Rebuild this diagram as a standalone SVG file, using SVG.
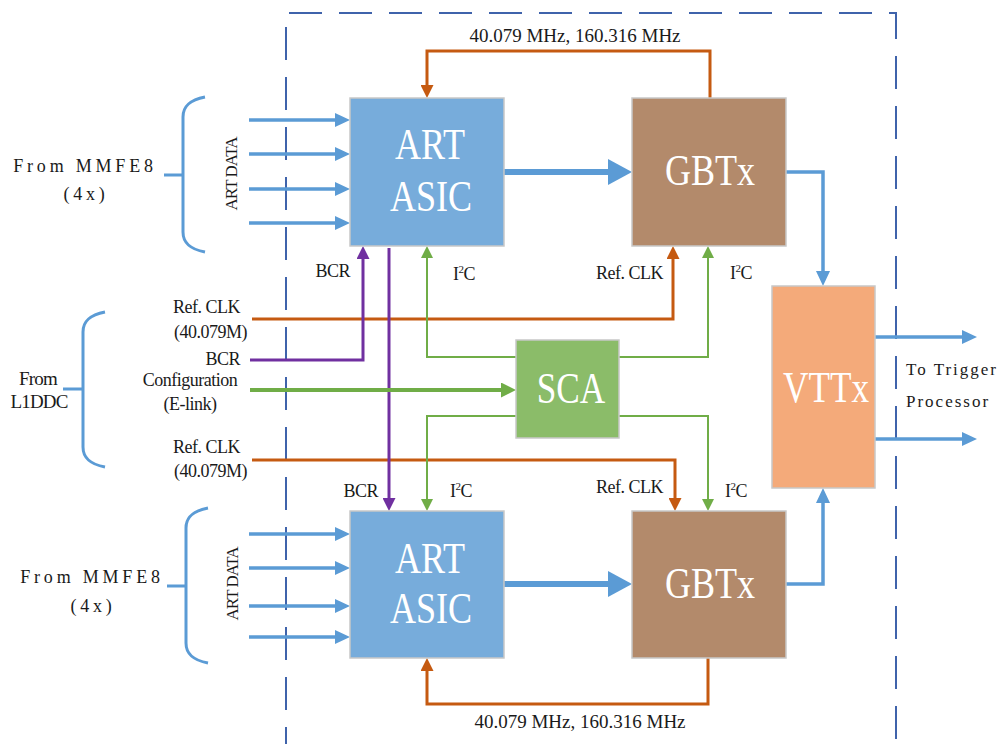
<svg xmlns="http://www.w3.org/2000/svg" width="1001" height="744" viewBox="0 0 1001 744">
<defs>
<style>
.t{font-family:"Liberation Serif","Times New Roman",serif;fill:#1a1a1a}
.lbl{font-size:18px;letter-spacing:-0.5px}
.big{font-family:"Liberation Serif","Times New Roman",serif;font-size:44px;fill:#ffffff;text-anchor:middle}
.sp{font-size:18px;letter-spacing:3.8px;text-anchor:middle}
.box{stroke:#c8c8c8;stroke-width:1.5}
.blue{fill:none;stroke:#5b9bd5;stroke-width:3.5}
.orange{fill:none;stroke:#c55a11;stroke-width:3}
.purple{fill:none;stroke:#7030a0;stroke-width:3}
.green{fill:none;stroke:#70ad47;stroke-width:2}
.brace{fill:none;stroke:#5b9bd5;stroke-width:3}
</style>
<marker id="mBlue" markerUnits="userSpaceOnUse" markerWidth="15" markerHeight="14" refX="4" refY="7" orient="auto"><path d="M0,0 L15,7 L0,14 Z" fill="#5b9bd5"/></marker>
<marker id="mBlueBig" markerUnits="userSpaceOnUse" markerWidth="24" markerHeight="26" refX="4" refY="13" orient="auto"><path d="M0,0 L24,13 L0,26 Z" fill="#5b9bd5"/></marker>
<marker id="mOrange" markerUnits="userSpaceOnUse" markerWidth="13" markerHeight="13" refX="4" refY="6.5" orient="auto"><path d="M0,0 L13,6.5 L0,13 Z" fill="#c55a11"/></marker>
<marker id="mPurple" markerUnits="userSpaceOnUse" markerWidth="13" markerHeight="13" refX="4" refY="6.5" orient="auto"><path d="M0,0 L13,6.5 L0,13 Z" fill="#7030a0"/></marker>
<marker id="mGreen" markerUnits="userSpaceOnUse" markerWidth="12" markerHeight="12" refX="4" refY="6" orient="auto"><path d="M0,0 L12,6 L0,12 Z" fill="#70ad47"/></marker>
<marker id="mGreenBig" markerUnits="userSpaceOnUse" markerWidth="15" markerHeight="15" refX="4" refY="7.5" orient="auto"><path d="M0,0 L15,7.5 L0,15 Z" fill="#70ad47"/></marker>
</defs>
<rect width="1001" height="744" fill="#ffffff"/>

<g id="boundary">
<path d="M286,760 V13 H896 V760" fill="none" stroke="#3f63ab" stroke-width="2" stroke-dasharray="33 17"/>
</g>

<g id="connectors">
<path class="blue" d="M249,120 H339" marker-end="url(#mBlue)"/>
<path class="blue" d="M249,154 H339" marker-end="url(#mBlue)"/>
<path class="blue" d="M249,189 H339" marker-end="url(#mBlue)"/>
<path class="blue" d="M249,223 H339" marker-end="url(#mBlue)"/>
<path class="blue" d="M249,534 H339" marker-end="url(#mBlue)"/>
<path class="blue" d="M249,568 H339" marker-end="url(#mBlue)"/>
<path class="blue" d="M249,606 H339" marker-end="url(#mBlue)"/>
<path class="blue" d="M249,637 H339" marker-end="url(#mBlue)"/>
<path d="M502,172 H612" fill="none" stroke="#5b9bd5" stroke-width="6" stroke-linecap="round" marker-end="url(#mBlueBig)"/>
<path d="M502,584 H612" fill="none" stroke="#5b9bd5" stroke-width="6" stroke-linecap="round" marker-end="url(#mBlueBig)"/>
<path class="blue" d="M786,172 H823 V275" marker-end="url(#mBlue)"/>
<path class="blue" d="M786,584 H823 V499" marker-end="url(#mBlue)"/>
<path class="blue" d="M875,337 H966" marker-end="url(#mBlue)"/>
<path class="blue" d="M875,439 H966" marker-end="url(#mBlue)"/>
<path class="orange" d="M710,98 V51 H427 V89" marker-end="url(#mOrange)"/>
<path class="orange" d="M708,658 V704 H427 V667" marker-end="url(#mOrange)"/>
<path class="orange" d="M252,319 H673 V255" marker-end="url(#mOrange)"/>
<path class="orange" d="M252,460 H675 V502" marker-end="url(#mOrange)"/>
<path class="purple" d="M250,360 H363 V255" marker-end="url(#mPurple)"/>
<path class="purple" d="M389,248 V502" marker-end="url(#mPurple)"/>
<path class="green" d="M516,357 H427 V254" marker-end="url(#mGreen)"/>
<path class="green" d="M619,357 H708 V254" marker-end="url(#mGreen)"/>
<path class="green" d="M516,416 H427 V503" marker-end="url(#mGreen)"/>
<path class="green" d="M619,416 H708 V503" marker-end="url(#mGreen)"/>
<path d="M250,390 H505" fill="none" stroke="#70ad47" stroke-width="4" marker-end="url(#mGreenBig)"/>
</g>

<g id="braces">
<path class="brace" d="M205,97 C190,100 183,106 183,117 V232 C183,243 190,249 205,252 M164,175 H183"/>
<path class="brace" d="M208,508 C193,511 186,517 186,528 V643 C186,654 193,660 208,663 M167,586 H186"/>
<path class="brace" d="M105,312 C90,315 83,321 83,332 V447 C83,458 90,464 105,467 M63,389 H83"/>
</g>

<g id="art-top">
<rect class="box" x="350" y="98" width="154" height="148" fill="#77acdb"/>
<text class="big" transform="translate(430,159) scale(0.82,1)">ART</text>
<text class="big" transform="translate(431,211) scale(0.82,1)">ASIC</text>
</g>
<g id="gbtx-top">
<rect class="box" x="632" y="98" width="154" height="148" fill="#b38a6b"/>
<text class="big" transform="translate(710,185) scale(0.82,1)">GBTx</text>
</g>
<g id="art-bottom">
<rect class="box" x="350" y="511" width="154" height="147" fill="#77acdb"/>
<text class="big" transform="translate(430,573) scale(0.82,1)">ART</text>
<text class="big" transform="translate(431,623) scale(0.82,1)">ASIC</text>
</g>
<g id="gbtx-bottom">
<rect class="box" x="632" y="511" width="154" height="147" fill="#b38a6b"/>
<text class="big" transform="translate(710,598) scale(0.82,1)">GBTx</text>
</g>
<g id="sca">
<rect class="box" x="516" y="340" width="103" height="98" fill="#8bbc69"/>
<text class="big" transform="translate(571,403) scale(0.8,1)">SCA</text>
</g>
<g id="vttx">
<rect class="box" x="772" y="286" width="103" height="202" fill="#f4aa7a"/>
<text class="big" transform="translate(826,402) scale(0.8,1)">VTTx</text>
</g>

<g id="labels">
<text class="t" x="575" y="42" font-size="19" text-anchor="middle">40.079 MHz, 160.316 MHz</text>
<text class="t" x="580" y="728" font-size="19" text-anchor="middle">40.079 MHz, 160.316 MHz</text>

<text class="t sp" x="85" y="172">From MMFE8</text>
<text class="t sp" x="86" y="200">(4x)</text>
<text class="t sp" x="92" y="583">From MMFE8</text>
<text class="t sp" x="93" y="612">(4x)</text>

<text class="t" font-size="17" letter-spacing="-1" text-anchor="middle" transform="translate(237,174) rotate(-90)">ART DATA</text>
<text class="t" font-size="17" letter-spacing="-1" text-anchor="middle" transform="translate(238,584) rotate(-90)">ART DATA</text>

<text class="t" font-size="19" letter-spacing="-0.8" text-anchor="middle" x="38" y="385">From</text>
<text class="t" font-size="19" letter-spacing="-0.8" text-anchor="middle" x="39" y="408">L1DDC</text>

<text class="t lbl" font-size="19" text-anchor="end" x="240" y="313">Ref. CLK</text>
<text class="t lbl" font-size="19" text-anchor="end" x="247" y="338">(40.079M)</text>
<text class="t lbl" font-size="19" text-anchor="end" x="240" y="365">BCR</text>
<text class="t lbl" font-size="19" text-anchor="middle" x="190" y="386">Configuration</text>
<text class="t lbl" font-size="19" text-anchor="middle" x="190" y="410">(E-link)</text>
<text class="t lbl" font-size="19" text-anchor="end" x="240" y="453">Ref. CLK</text>
<text class="t lbl" font-size="19" text-anchor="end" x="247" y="477">(40.079M)</text>

<text class="t lbl" text-anchor="end" x="350" y="277">BCR</text>
<text class="t lbl" x="453" y="280">I<tspan font-size="11" dy="-7">2</tspan><tspan dy="7">C</tspan></text>
<text class="t lbl" text-anchor="end" x="663" y="279">Ref. CLK</text>
<text class="t lbl" x="730" y="279">I<tspan font-size="11" dy="-7">2</tspan><tspan dy="7">C</tspan></text>

<text class="t lbl" text-anchor="end" x="378" y="497">BCR</text>
<text class="t lbl" x="450" y="497">I<tspan font-size="11" dy="-7">2</tspan><tspan dy="7">C</tspan></text>
<text class="t lbl" text-anchor="end" x="663" y="493">Ref. CLK</text>
<text class="t lbl" x="725" y="497">I<tspan font-size="11" dy="-7">2</tspan><tspan dy="7">C</tspan></text>

<text class="t" font-size="17" letter-spacing="2" x="906" y="375">To Trigger</text>
<text class="t" font-size="17" letter-spacing="2" x="906" y="407">Processor</text>
</g>
</svg>
